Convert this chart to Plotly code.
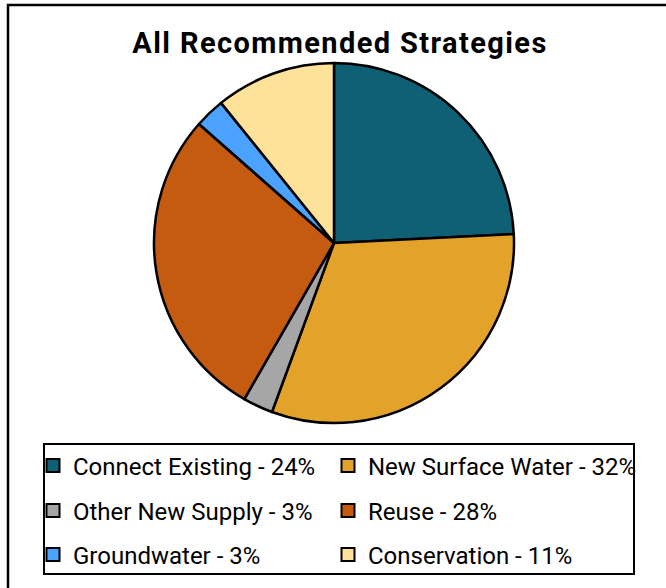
import plotly.graph_objects as go

categories = ["Connect Existing", "New Surface Water", "Other New Supply",
              "Reuse", "Groundwater", "Conservation"]
values = [24.2, 31.4, 2.7, 28.2, 2.7, 10.8]
pct_labels = ["24%", "32%", "3%", "28%", "3%", "11%"]
colors = ["#0F5F75", "#E3A32B", "#A6A6A6", "#C55A11", "#4BA3FF", "#FFE29A"]
title_text = "All Recommended Strategies"

W, H = 666, 588

fig = go.Figure()
fig.add_trace(go.Pie(
    labels=categories, values=values, sort=False, direction="clockwise",
    rotation=0, textinfo="none", showlegend=False,
    marker=dict(colors=colors, line=dict(color="black", width=2.5)),
    domain=dict(x=[(334 - 180) / W, (334 + 180) / W],
                y=[(H - 423) / H, (H - 63) / H]),
))

legend_names = ["legend"] + [f"legend{k}" for k in range(2, 7)]
for i, (cat, pct, col) in enumerate(zip(categories, pct_labels, colors)):
    fig.add_trace(go.Scatter(
        x=[None], y=[None], mode="markers", name=f"{cat} - {pct}",
        marker=dict(symbol="square", size=13, color=col,
                    line=dict(color="black", width=2)),
        legend=legend_names[i], hoverinfo="skip",
    ))

row_centers = [466, 511, 555]
col_lefts = [33, 328]
leg_common = dict(orientation="h", xanchor="left", yanchor="middle",
                  bgcolor="rgba(0,0,0,0)", borderwidth=0,
                  font=dict(family="Roboto", size=24, color="black"),
                  itemclick=False, itemdoubleclick=False)
layout_legends = {}
for i, name in enumerate(legend_names):
    layout_legends[name] = dict(leg_common, x=col_lefts[i % 2] / W,
                                y=(H - row_centers[i // 2]) / H)

fig.update_layout(
    width=W, height=H,
    margin=dict(l=0, r=0, t=0, b=0),
    paper_bgcolor="white", plot_bgcolor="white",
    xaxis=dict(visible=False), yaxis=dict(visible=False),
    title=dict(text=f"<b><span style='letter-spacing:1.4px'>{title_text}</span></b>",
               x=340 / W, xanchor="center",
               y=(H - 43) / H, yanchor="middle",
               font=dict(family="Roboto", size=29, color="black")),
    shapes=[
        dict(type="rect", xref="paper", yref="paper",
             x0=8 / W, x1=1.05, y0=-0.05, y1=(H - 5) / H,
             line=dict(color="black", width=2.5), layer="below"),
        dict(type="rect", xref="paper", yref="paper",
             x0=44 / W, x1=634 / W, y0=(H - 574) / H, y1=(H - 444) / H,
             line=dict(color="black", width=2), layer="below"),
    ],
    **layout_legends,
)

fig.write_html("out.html", config={"displayModeBar": False},
               post_script="document.body.style.margin='0';")
